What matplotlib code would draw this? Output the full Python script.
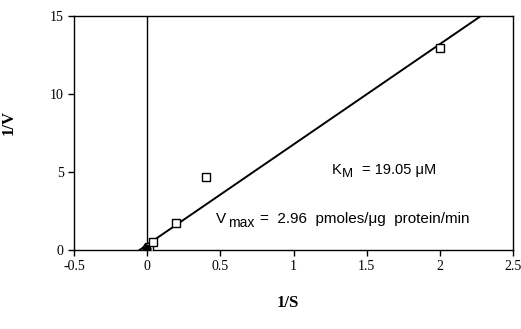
import numpy as np
import matplotlib
matplotlib.use("Agg")
import matplotlib.pyplot as plt

# Lineweaver-Burk data (1/S, 1/V)
inv_s = [0.005, 0.01, 0.04, 0.2, 0.4, 2.0]
inv_v = [0.1, 0.2, 0.5, 1.72, 4.67, 12.95]
km = 19.05
vmax = 2.96
x_ticks = [-0.5, 0, 0.5, 1, 1.5, 2, 2.5]
x_labels = ["-0.5", "0", "0.5", "1", "1.5", "2", "2.5"]
y_ticks = [0, 5, 10, 15]

W, H = 521, 329
fig = plt.figure(figsize=(W / 100, H / 100), dpi=100)
ax = fig.add_axes([0.142, 0.240, 0.843, 0.711])

# fitted line: 1/V = (Km/Vmax)(1/S) + 1/Vmax
slope = km / vmax
icpt = 1.0 / vmax
xl = np.array([-1.0 / km, (15 - icpt) / slope])
ax.plot(xl, slope * xl + icpt, color='black', lw=1.4, zorder=3)

ax.plot(inv_s, inv_v, 's', ms=6, mfc='white', mec='black', mew=1.0, zorder=4)
ax.plot([0.0, -0.01], [0.05, 0.1], 'o', ms=5, color='black', zorder=5)

ax.axvline(0, color='black', lw=1.0, zorder=2)

ax.set_xlim(-0.5, 2.5)
ax.set_ylim(0, 15)
ax.set_xticks(x_ticks)
ax.set_xticklabels(x_labels)
ax.set_yticks(y_ticks)
ax.tick_params(direction='out', length=4, width=1, labelsize=10)
ax.tick_params(top=False, right=False)
for lab in ax.get_xticklabels() + ax.get_yticklabels():
    lab.set_family('Liberation Serif')
for sp in ax.spines.values():
    sp.set_linewidth(1.0)

ax.set_xlabel("1/S", family='Liberation Serif', fontweight='bold', fontsize=12)
ax.set_ylabel("1/V", family='Liberation Serif', fontweight='bold', fontsize=12)
ax.xaxis.set_label_coords((288 - 74) / 439, -(295 - 250) / 234)
ax.yaxis.set_label_coords(-(74 - 17) / 439, (250 - 122) / 234)


def ftext(px, py, s, size=10):
    # place text by pixel position (baseline)
    fig.text(px / W, 1 - py / H, s, family='Liberation Sans', fontsize=size,
             va='baseline', ha='left')


ftext(332, 174, "K", 10.5)
ftext(342, 177, "M", 9.5)
ftext(362, 174, "= 19.05 μM", 10.5)

ftext(216, 223, "V", 11)
ftext(228, 227, "max", 10)
ftext(260, 223, "=  2.96  pmoles/μg  protein/min", 11)

fig.savefig("out.png", dpi=100)
